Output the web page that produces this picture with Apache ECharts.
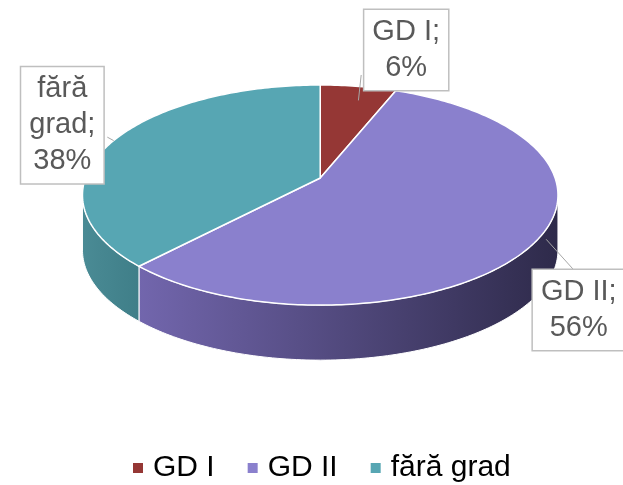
<!DOCTYPE html>
<html>
<head>
<meta charset="utf-8">
<script src="https://cdn.jsdelivr.net/npm/echarts@6/dist/echarts.min.js"></script>
<style>
  html, body { margin: 0; padding: 0; background: #fff; }
  #main { width: 623px; height: 485px; }
</style>
</head>
<body>
<div id="main"></div>
<script>
// data
const categories = ['GD I', 'GD II', 'fără grad'];
const shares = [6, 56, 38];
const labelNames = ['GD I', 'GD II', 'fără\ngrad'];

// styles
const topColors = ['#953735', '#8A80CD', '#57A6B3'];
const sideColors = [['#6e2826', '#4a1b1a'], ['#7266AD', '#2E2A4A'], ['#4A8B95', '#3F7E88']];
// label box centres (fraction of width / height) and leader tweaks
const labelBoxes = [[0.652, 0.103], [0.929, 0.639], [0.1, 0.258]];
// [angle offset, dy at pie, dx at box, dy at box]
const leaders = [[0, 14, -45, 25], [-6, 10, -5, -40], [0, 0, 45, 12]];

const chart = echarts.init(document.getElementById('main'));
const total = shares.reduce((a, b) => a + b, 0);
const D2R = Math.PI / 180;
const persp = 0.155;

function pieGeom(api) {
  const w = api.getWidth(), h = api.getHeight();
  return { cx: w * 0.514, cy: h * 0.367, rx: w * 0.377, ry: h * 0.2215, depth: 55, w: w, h: h };
}

function renderSlice(params, api) {
  const i = params.seriesIndex;
  const g = pieGeom(api);
  let before = 0;
  for (let k = 0; k < i; k++) before += shares[k];
  const a0 = before / total * 360;
  const a1 = (before + shares[i]) / total * 360;
  // tilted disc seen in slight perspective
  const pt = (deg, dy) => {
    const u = Math.sin(deg * D2R), v = Math.cos(deg * D2R);
    const d = 1 + persp * v;
    return [g.cx + g.rx * u / d, g.cy - g.ry * v / d + (dy || 0)];
  };

  const children = [];
  // top face
  const top = [[g.cx, g.cy]];
  for (let a = a0; a < a1; a += 1) top.push(pt(a));
  top.push(pt(a1));
  children.push({
    type: 'polygon', z2: 10,
    shape: { points: top },
    style: { fill: topColors[i], stroke: '#fff', lineWidth: 1.5, lineJoin: 'round' }
  });
  // front side wall
  const edge = Math.acos(-persp) / D2R;
  const s0 = Math.max(a0, edge), s1 = Math.min(a1, 360 - edge);
  if (s1 > s0) {
    const up = [], down = [];
    for (let a = s0; a < s1; a += 1) { up.push(pt(a)); down.push(pt(a, g.depth)); }
    up.push(pt(s1)); down.push(pt(s1, g.depth));
    children.push({
      type: 'polygon', z2: 1,
      shape: { points: up.concat(down.reverse()) },
      style: {
        fill: {
          type: 'linear', x: 0, y: 0, x2: 1, y2: 0,
          colorStops: [{ offset: 0, color: sideColors[i][0] }, { offset: 1, color: sideColors[i][1] }]
        },
        stroke: '#fff', lineWidth: 1
      }
    });
  }
  // data label with leader line
  const mid = (a0 + a1) / 2;
  const L = leaders[i];
  const anchor = pt(mid + L[0], L[1]);
  const bx = labelBoxes[i][0] * g.w, by = labelBoxes[i][1] * g.h;
  const pct = Math.round(shares[i] / total * 100);
  children.push({
    type: 'polyline', z2: 15,
    shape: { points: [anchor, [bx + L[2], by + L[3]]] },
    style: { stroke: '#a6a6a6', lineWidth: 1 }
  });
  children.push({
    type: 'text', z2: 20,
    x: bx, y: by,
    style: {
      text: labelNames[i] + ';\n' + pct + '%',
      align: 'center', verticalAlign: 'middle',
      font: '29px "Liberation Sans", Arial, sans-serif',
      lineHeight: 36,
      fill: '#595959',
      backgroundColor: '#fff',
      borderColor: '#bfbfbf', borderWidth: 1.5,
      padding: [4, 8, 4, 8]
    }
  });
  return { type: 'group', children: children };
}

const option = {
  animation: false,
  legend: {
    data: categories,
    bottom: -3,
    left: 128,
    icon: 'rect',
    itemWidth: 10, itemHeight: 10,
    itemGap: 33,
    textStyle: {
      fontSize: 30, color: '#000',
      fontFamily: '"Liberation Sans", Arial, sans-serif',
      padding: [0, 0, 0, 5]
    }
  },
  series: categories.map((name, i) => ({
    type: 'custom',
    name: name,
    coordinateSystem: 'none',
    itemStyle: { color: topColors[i] },
    data: [shares[i]],
    renderItem: renderSlice
  }))
};
chart.setOption(option);
</script>
</body>
</html>
